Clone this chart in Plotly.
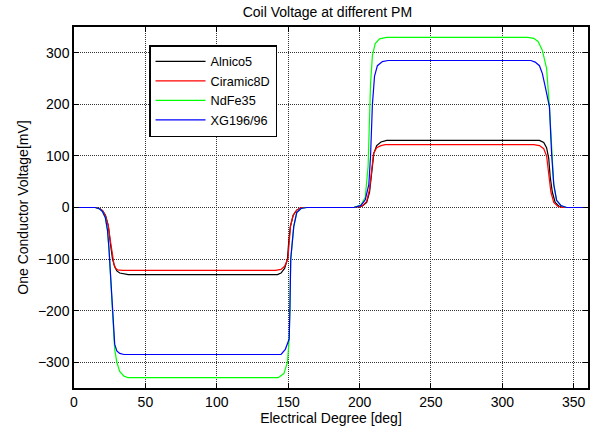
import plotly.graph_objects as go

# ---- data ----
series_names = ["Alnico5", "Ciramic8D", "NdFe35", "XG196/96"]
series_colors = ["#000000", "#ff0000", "#00ff00", "#0000ff"]

alnico_deg = [0, 15, 18, 20, 22, 24, 25.5, 27, 28.5, 30, 32, 35, 38,
              142.5, 145, 147.5, 149.5, 150.3, 151.5, 153.5, 156, 159,
              196, 202, 205, 207, 208.5, 210, 212, 215, 219,
              326, 329, 331, 332.5, 333.5, 335, 337, 339.5, 343, 360]
alnico_mv = [0, 0, -2, -6, -15, -35, -70, -100, -115, -123, -127, -129, -130,
             -130, -127, -118, -100, -70, -37, -15, -5, 0,
             0, 3, 10, 30, 70, 105, 120, 127, 130,
             130, 126, 116, 95, 60, 30, 10, 3, 0, 0]

ciramic_deg = [0, 15, 18, 20, 22, 24, 25.5, 27, 28, 29, 30.5, 34,
               141, 145, 147.5, 149.8, 150.5, 151.6, 153.5, 156, 159,
               196, 202, 205, 207, 208.3, 209.8, 212, 215, 218,
               322, 326, 329, 331, 332.5, 334, 336, 339, 342, 360]
ciramic_mv = [0, 0, -2, -6, -15, -35, -65, -95, -110, -117, -121, -122,
              -122, -120, -114, -100, -70, -37, -15, -5, 0,
              0, 3, 12, 35, 75, 105, 116, 120, 122,
              122, 120, 114, 100, 65, 30, 10, 2, 0, 0]

ndfe_deg = [0, 15, 18, 20, 22, 23.5, 24.5, 25.5, 26.5, 27.5, 28.5, 30, 32, 35, 38,
            143, 147, 149.5, 150.7, 151.2, 151.8, 153.9, 156, 159, 163,
            196, 201, 204, 206, 207.7, 209, 211, 214, 219,
            318, 322, 325, 328, 331, 333, 334.5, 336, 338, 341, 345, 360]
ndfe_mv = [0, 0, -3, -8, -20, -45, -80, -130, -190, -240, -275, -300, -318, -327, -330,
           -330, -322, -300, -255, -200, -100, -37, -10, -2, 0,
           0, 5, 20, 80, 240, 295, 318, 327, 330,
           330, 328, 322, 305, 270, 195, 105, 45, 14, 4, 0, 0]

xg_deg = [0, 15, 18, 20, 22, 23.5, 24.5, 25.5, 26.5, 27.5, 28.5, 30, 32, 35,
          145, 148, 150.7, 151.2, 151.8, 153.9, 156, 159, 163,
          196, 201, 204, 206.5, 207.7, 209, 210.5, 212.5, 216, 220,
          320, 323, 326, 328, 330, 333, 334.5, 336, 338, 341, 345, 360]
xg_mv = [0, 0, -3, -8, -20, -45, -80, -130, -190, -240, -265, -278, -283, -285,
         -285, -275, -255, -200, -100, -37, -10, -2, 0,
         0, 4, 15, 45, 100, 200, 255, 275, 283, 285,
         285, 282, 275, 260, 235, 195, 105, 45, 14, 4, 0, 0]

x_ticks = [0, 50, 100, 150, 200, 250, 300, 350]
y_ticks = [-300, -200, -100, 0, 100, 200, 300]

fig = go.Figure()
for name, color, xs, ys in zip(series_names, series_colors,
                               [alnico_deg, ciramic_deg, ndfe_deg, xg_deg],
                               [alnico_mv, ciramic_mv, ndfe_mv, xg_mv]):
    fig.add_trace(go.Scatter(x=xs, y=ys, mode="lines", name=name,
                             line=dict(color=color, width=1.2)))

font = dict(family="Liberation Sans, Arial, sans-serif", size=14, color="#000000")
axis_common = dict(
    showline=True, linecolor="#000000", linewidth=1.5, mirror="ticks",
    ticks="inside", ticklen=5, tickcolor="#000000", tickwidth=1,
    showgrid=True, gridcolor="#333333", griddash="1px,1px", gridwidth=1,
    zeroline=False, tickfont=font,
)
fig.update_xaxes(range=[0, 360], tickvals=x_ticks,
                 title=dict(text="Electrical Degree [deg]", font=font, standoff=2),
                 **axis_common)
fig.update_yaxes(range=[-350, 350], tickvals=y_ticks,
                 title=dict(text="One Conductor Voltage[mV]", font=font, standoff=6),
                 **axis_common)

fig.update_layout(
    width=592, height=430,
    margin=dict(l=74, r=4, t=27, b=42, autoexpand=False),
    paper_bgcolor="#ffffff", plot_bgcolor="#ffffff",
    font=font,
    title=dict(text="Coil Voltage at different PM", x=0.553, xanchor="center",
               y=0.972, yanchor="middle", font=font),
    showlegend=True,
    legend=dict(x=0.146, y=0.950, xanchor="left", yanchor="top",
                bgcolor="#ffffff", bordercolor="#000000", borderwidth=1.5,
                font=dict(family="Liberation Sans, Arial, sans-serif", size=12.7,
                          color="#000000"),
                tracegroupgap=0, itemwidth=50, entrywidth=90,
                entrywidthmode="pixels"),
)

fig.write_html("out.html",
               config={"displayModeBar": False},
               post_script="document.body.style.margin='0px';"
                           "document.body.style.padding='0px';")
